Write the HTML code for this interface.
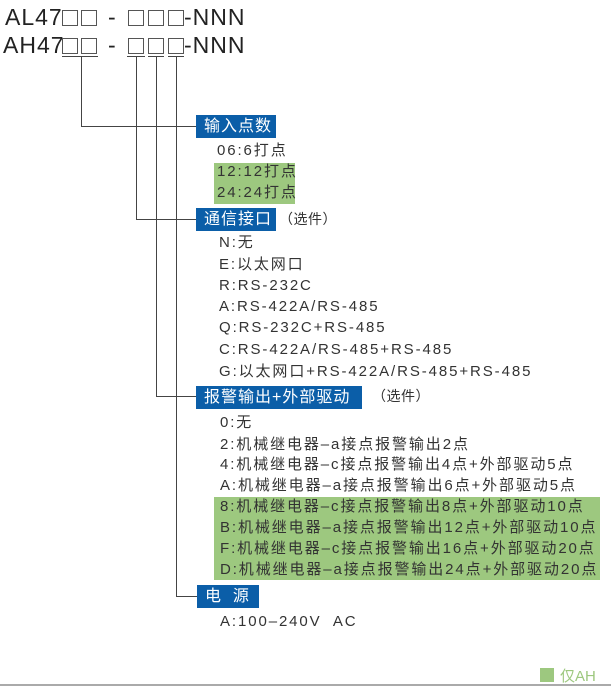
<!DOCTYPE html>
<html><head><meta charset="utf-8"><style>
body{margin:0;width:611px;height:686px;background:#fff;position:relative;overflow:hidden;font-family:"Liberation Sans","Noto Sans CJK SC",sans-serif;color:#222}
.a{position:absolute;white-space:nowrap}
.t{font-size:15px;line-height:20px;letter-spacing:1.9px;color:#333}
.b{position:absolute;background:#0b5ea8;color:#fff;font-size:16px;line-height:23px;padding-left:8px;letter-spacing:1px;box-sizing:border-box}
.g{position:absolute;background:#9dc87f}
.v{position:absolute;background:#444;width:1px}
.h{position:absolute;background:#444;height:1px}
.big{font-size:23px;letter-spacing:1px;line-height:26px}
.sq{position:absolute;width:16px;height:16px;border:1.5px solid #555;box-sizing:border-box}
</style></head><body>
<div class="a big" style="left:5px;top:4px">AL47</div>
<div class="sq" style="left:62px;top:10px"></div><div class="sq" style="left:81px;top:10px"></div>
<div class="a big" style="left:108px;top:4px">-</div>
<div class="sq" style="left:128px;top:10px"></div><div class="sq" style="left:148px;top:10px"></div><div class="sq" style="left:168px;top:10px"></div>
<div class="a big" style="left:184px;top:4px">-NNN</div>

<div class="a big" style="left:3px;top:32px">AH47</div>
<div class="sq" style="left:62px;top:38px"></div><div class="sq" style="left:81px;top:38px"></div>
<div class="a big" style="left:108px;top:32px">-</div>
<div class="sq" style="left:128px;top:38px"></div><div class="sq" style="left:148px;top:38px"></div><div class="sq" style="left:168px;top:38px"></div>
<div class="a big" style="left:184px;top:32px">-NNN</div>

<div class="h" style="left:62px;top:56px;width:36px"></div>
<div class="h" style="left:127px;top:56px;width:18px"></div>
<div class="h" style="left:148px;top:56px;width:16px"></div>
<div class="h" style="left:168px;top:56px;width:16px"></div>
<div class="v" style="left:81px;top:56px;height:71px"></div>
<div class="h" style="left:81px;top:126px;width:116px"></div>
<div class="v" style="left:136px;top:56px;height:164px"></div>
<div class="h" style="left:136px;top:219px;width:61px"></div>
<div class="v" style="left:156px;top:56px;height:341px"></div>
<div class="h" style="left:156px;top:396px;width:41px"></div>
<div class="v" style="left:176px;top:56px;height:541px"></div>
<div class="h" style="left:176px;top:596px;width:21px"></div>

<div class="b" style="left:196px;top:115px;width:80px">输入点数</div>
<div class="g" style="left:214px;top:163px;width:81px;height:41px"></div>
<div class="a t" style="left:217px;top:141px">06:6打点</div>
<div class="a t" style="left:217px;top:162px">12:12打点</div>
<div class="a t" style="left:217px;top:183px">24:24打点</div>

<div class="b" style="left:196px;top:208px;width:80px">通信接口</div>
<div class="a t" style="left:279px;top:209px;font-size:14px;letter-spacing:0.5px">（选件）</div>
<div class="a t" style="left:219px;top:233px">N:无</div>
<div class="a t" style="left:219px;top:255px">E:以太网口</div>
<div class="a t" style="left:219px;top:276px">R:RS-232C</div>
<div class="a t" style="left:219px;top:297px">A:RS-422A/RS-485</div>
<div class="a t" style="left:219px;top:318px">Q:RS-232C+RS-485</div>
<div class="a t" style="left:219px;top:340px">C:RS-422A/RS-485+RS-485</div>
<div class="a t" style="left:219px;top:362px">G:以太网口+RS-422A/RS-485+RS-485</div>

<div class="b" style="left:196px;top:386px;width:166px">报警输出+外部驱动</div>
<div class="a t" style="left:372px;top:386px;font-size:14px;letter-spacing:0.5px">（选件）</div>
<div class="g" style="left:214px;top:497px;width:386px;height:83px"></div>
<div class="a t" style="left:220px;top:413px">0:无</div>
<div class="a t" style="left:220px;top:435px">2:机械继电器–a接点报警输出2点</div>
<div class="a t" style="left:220px;top:455px">4:机械继电器–c接点报警输出4点+外部驱动5点</div>
<div class="a t" style="left:220px;top:476px">A:机械继电器–a接点报警输出6点+外部驱动5点</div>
<div class="a t" style="left:220px;top:497px">8:机械继电器–c接点报警输出8点+外部驱动10点</div>
<div class="a t" style="left:220px;top:518px">B:机械继电器–a接点报警输出12点+外部驱动10点</div>
<div class="a t" style="left:220px;top:539px">F:机械继电器–c接点报警输出16点+外部驱动20点</div>
<div class="a t" style="left:220px;top:560px">D:机械继电器–a接点报警输出24点+外部驱动20点</div>

<div class="b" style="left:197px;top:585px;width:62px">电&nbsp;&nbsp;源</div>
<div class="a t" style="left:220px;top:612px">A:100–240V&nbsp; AC</div>

<div class="g" style="left:540px;top:668px;width:14px;height:14px"></div>
<div class="a" style="left:560px;top:665px;font-size:15px;color:#9dc87f">仅AH</div>
<div class="h" style="left:0;top:684px;width:611px;background:#aaa;height:2px"></div>
</body></html>
